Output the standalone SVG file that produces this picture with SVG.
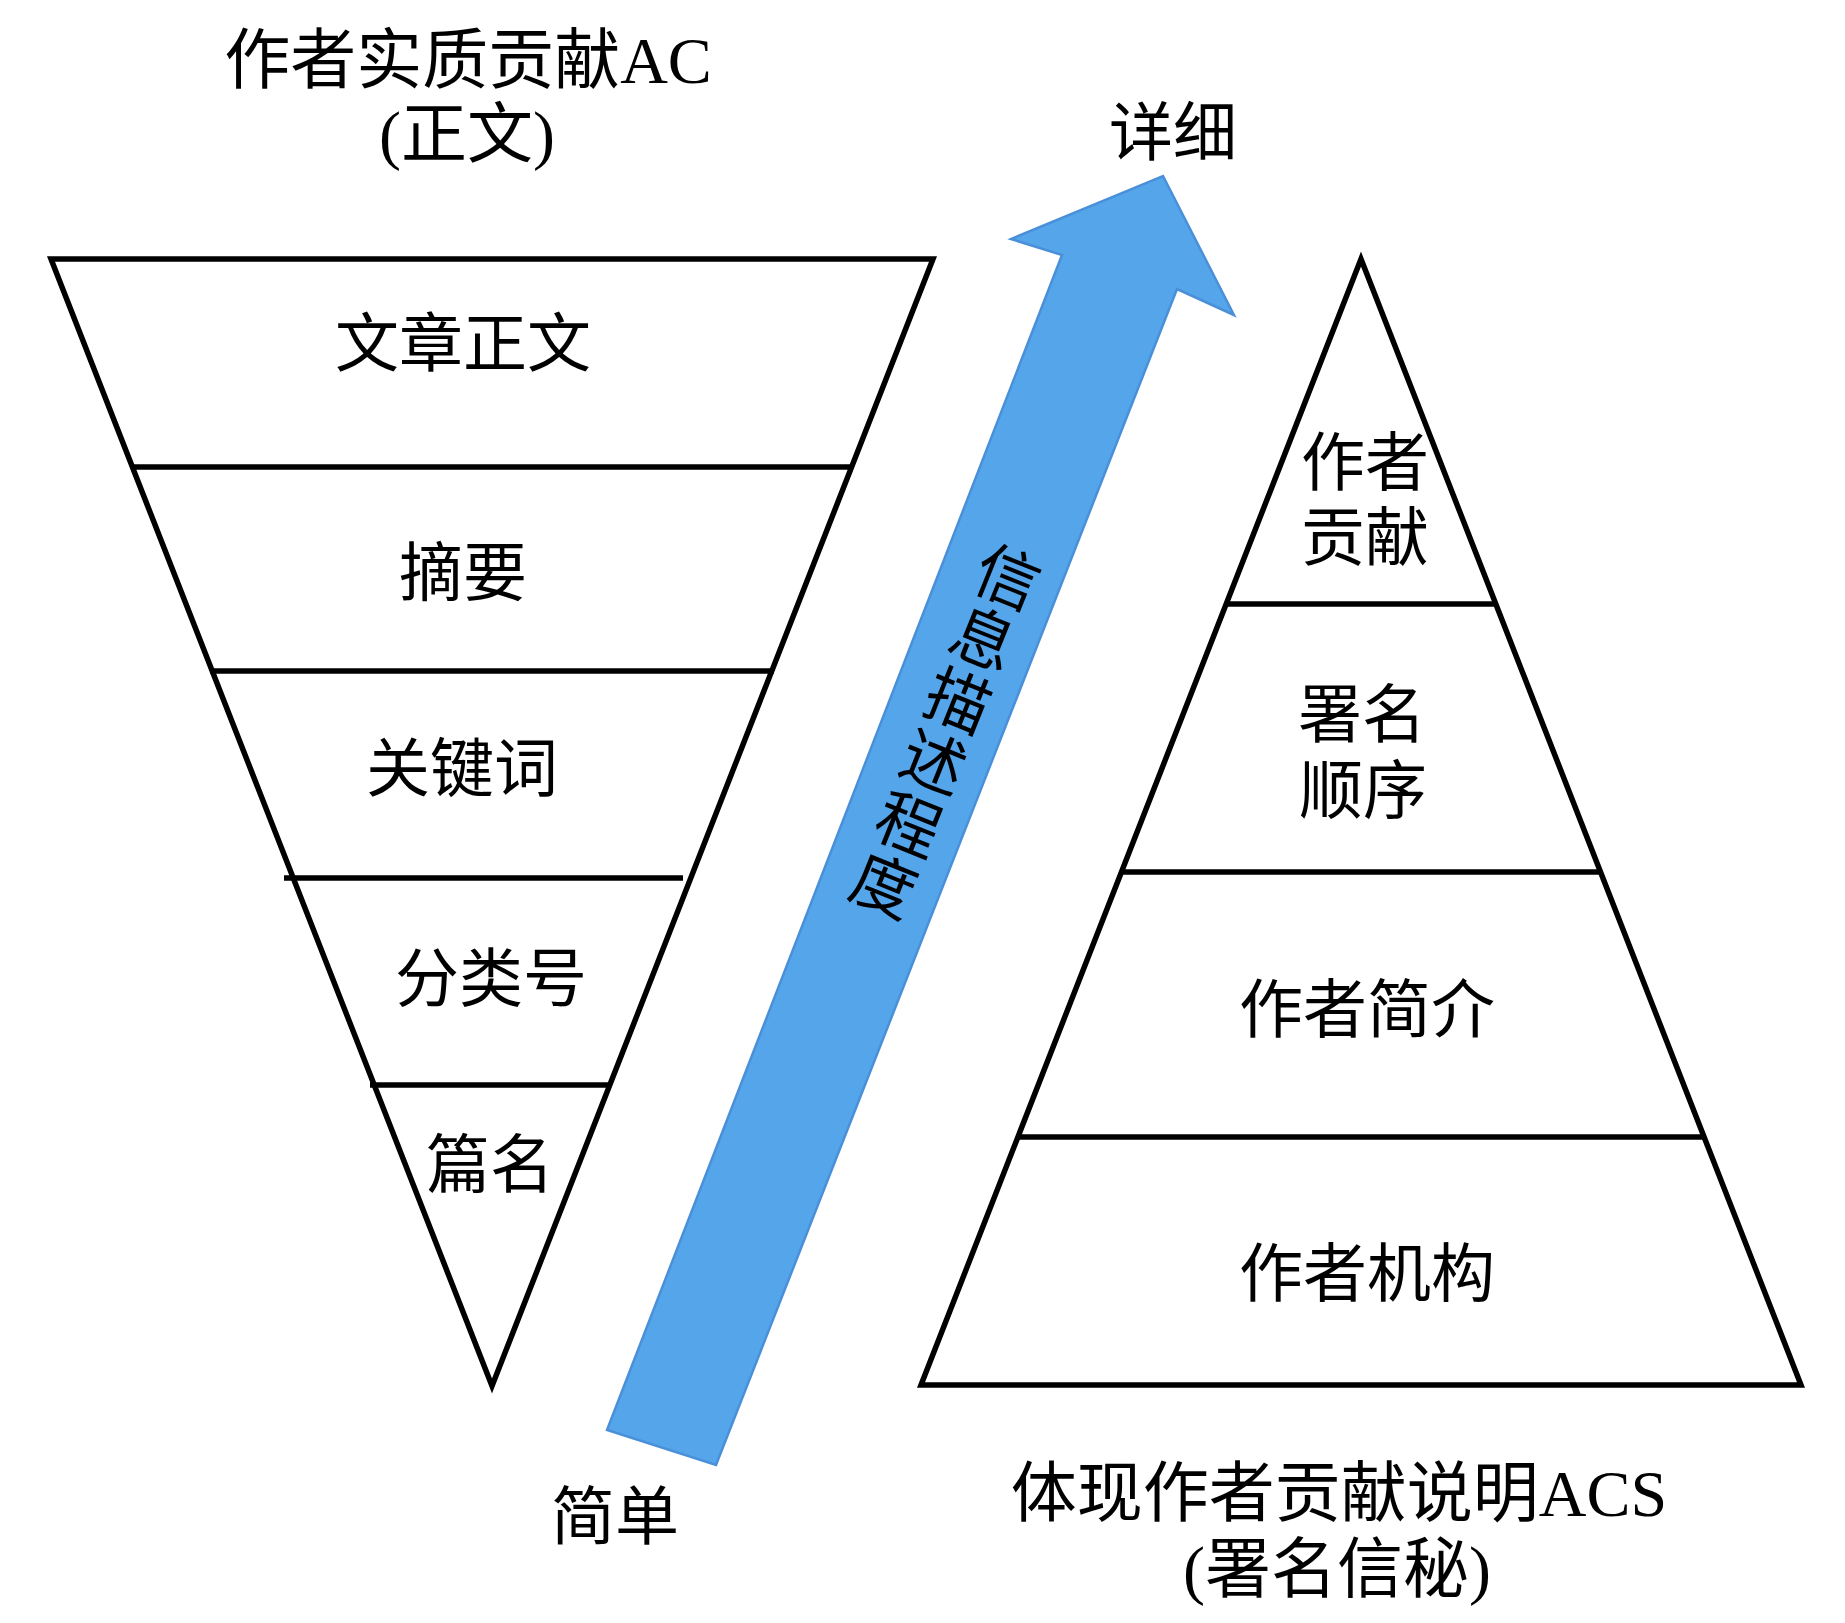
<svg xmlns="http://www.w3.org/2000/svg" width="1845" height="1623" viewBox="0 0 1845 1623">
<style>
.t{font-family:"Liberation Serif","Noto Sans CJK SC",serif;font-size:64px;fill:#000;text-anchor:middle}
.big{font-size:66px}
.edge{fill:#fff;stroke:#000;stroke-width:5.5;stroke-linejoin:miter}
.layer{stroke:#000;stroke-width:5.5;fill:none}
.arrow{fill:#55a5eb;stroke:#4a90d9;stroke-width:2.5;stroke-linejoin:miter}
</style>
<rect width="1845" height="1623" fill="#fff"/>
<g id="title-left">
<text class="t big" x="468" y="83">作者实质贡献AC</text>
<text class="t big" x="467" y="157">(正文)</text>
</g>
<g id="inverted-pyramid">
<polygon class="edge" points="51,259 933,259 492,1386"/>
<line class="layer" x1="133" y1="467" x2="852" y2="467"/>
<line class="layer" x1="210" y1="671" x2="774" y2="671"/>
<line class="layer" x1="284" y1="878" x2="683" y2="878"/>
<line class="layer" x1="370" y1="1085" x2="609" y2="1085"/>
</g>
<g id="node-wenzhang"><text class="t" x="463" y="366">文章正文</text></g>
<g id="node-zhaiyao"><text class="t" x="463" y="595">摘要</text></g>
<g id="node-guanjianci"><text class="t" x="462" y="791">关键词</text></g>
<g id="node-fenleihao"><text class="t" x="491" y="1001">分类号</text></g>
<g id="node-pianming"><text class="t" x="490" y="1187">篇名</text></g>
<g id="connectors">
<path class="arrow" d="M607,1430 L1062,255 L1011,239 L1163,176 L1234,315 L1177,289 L716,1465 Z"/>
<g transform="translate(1008,577) rotate(21.9)">
<text class="t" x="0" y="24">信</text>
<text class="t" x="0" y="90">息</text>
<text class="t" x="0" y="157">描</text>
<text class="t" x="0" y="223">述</text>
<text class="t" x="0" y="290">程</text>
<text class="t" x="0" y="356">度</text>
</g>
</g>
<g id="label-xiangxi"><text class="t" x="1173" y="155">详细</text></g>
<g id="label-jiandan"><text class="t" x="615" y="1539">简单</text></g>
<g id="pyramid">
<polygon class="edge" points="1361,259 1801,1385 921,1385"/>
<line class="layer" x1="1226" y1="604" x2="1496" y2="604"/>
<line class="layer" x1="1121" y1="872" x2="1601" y2="872"/>
<line class="layer" x1="1018" y1="1137" x2="1704" y2="1137"/>
</g>
<g id="node-gongxian">
<text class="t" x="1365" y="485">作者</text>
<text class="t" x="1365" y="560">贡献</text>
</g>
<g id="node-shunxu">
<text class="t" x="1362" y="737">署名</text>
<text class="t" x="1363" y="813">顺序</text>
</g>
<g id="node-jianjie"><text class="t" x="1367" y="1032">作者简介</text></g>
<g id="node-jigou"><text class="t" x="1367" y="1296">作者机构</text></g>
<g id="title-right">
<text class="t big" x="1339" y="1516">体现作者贡献说明ACS</text>
<text class="t big" x="1337" y="1592">(署名信秘)</text>
</g>
</svg>
